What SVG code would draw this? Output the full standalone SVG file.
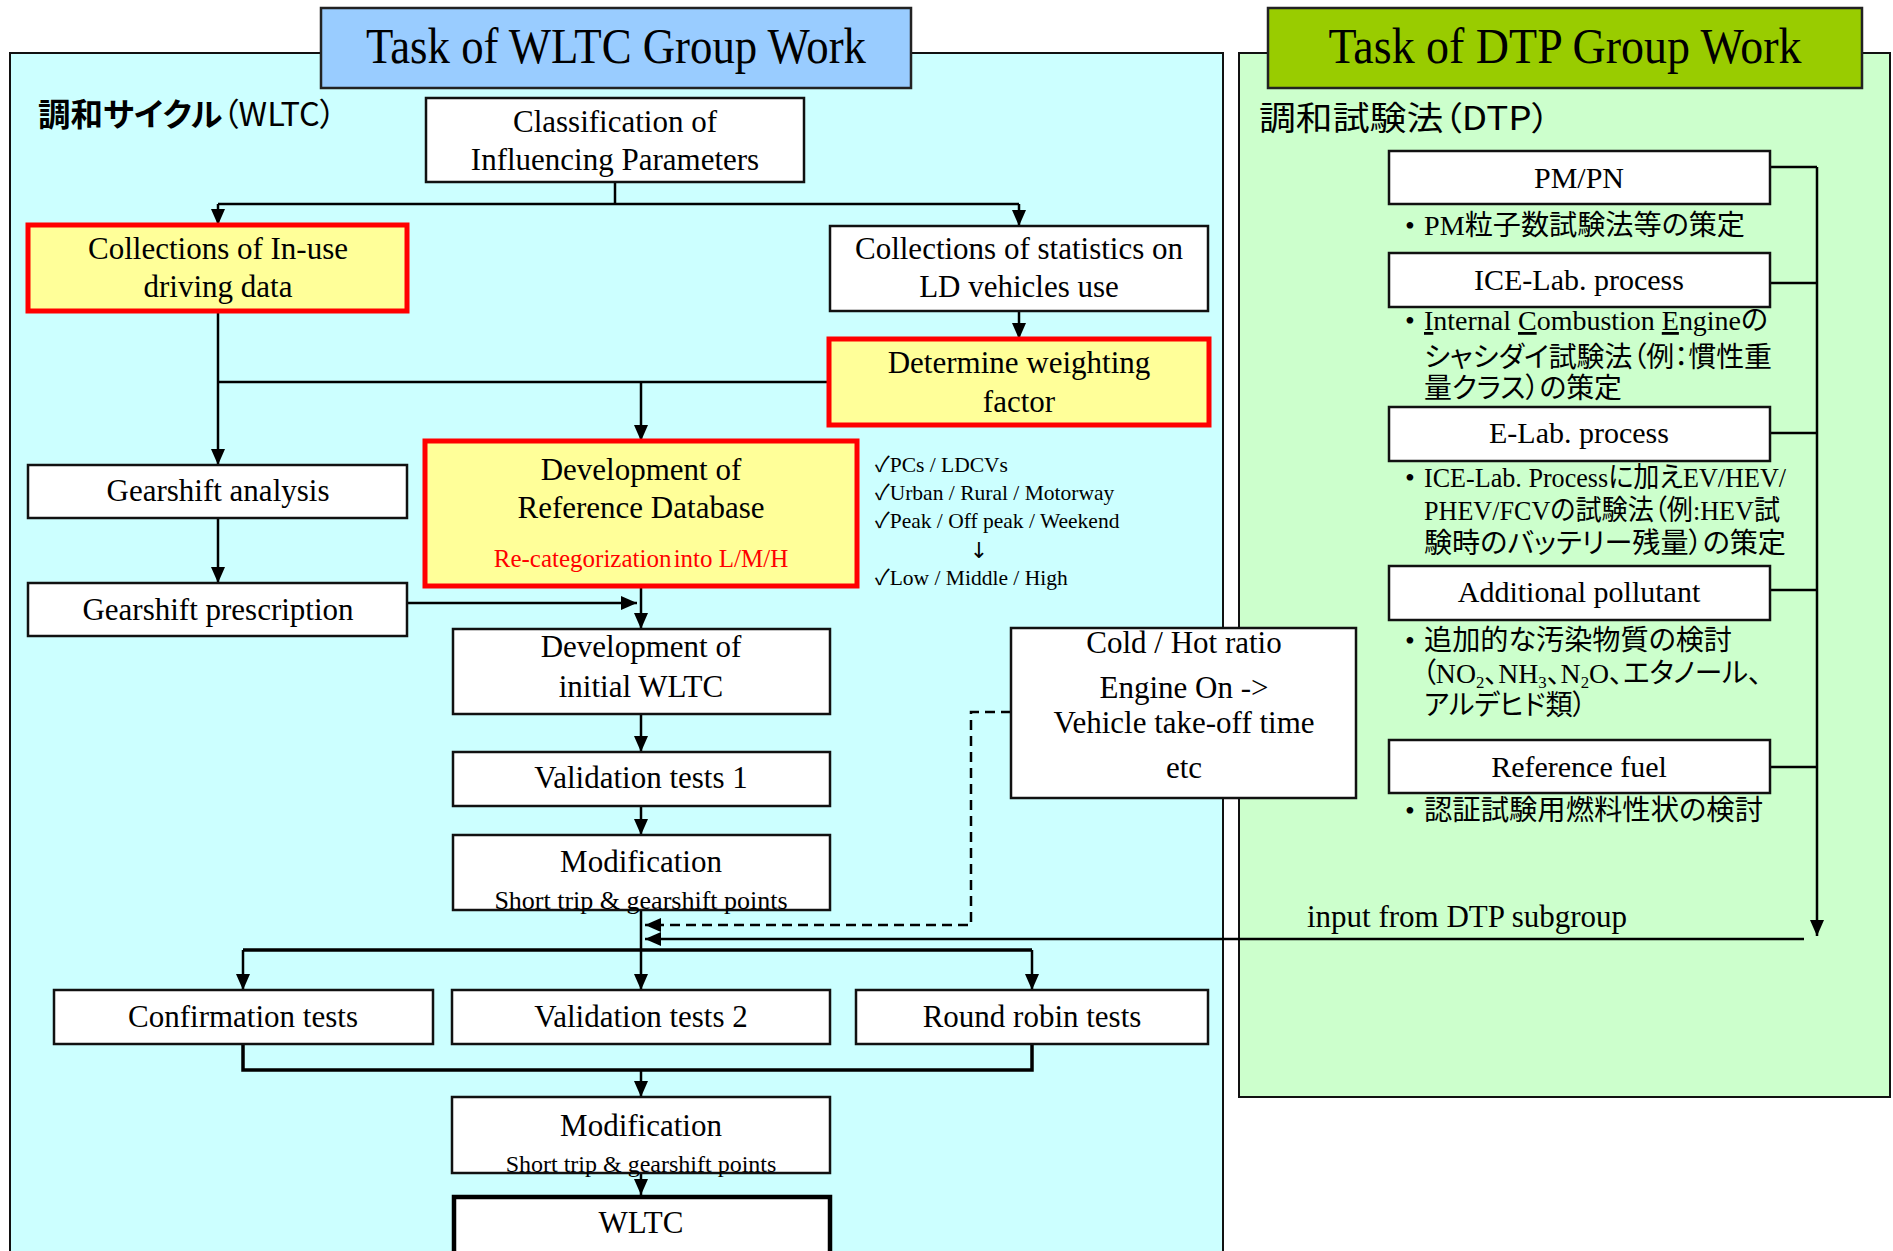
<svg xmlns="http://www.w3.org/2000/svg" width="1893" height="1251" viewBox="0 0 1893 1251">
<style>
.t{font-family:"Liberation Serif","Noto Sans CJK JP",serif;fill:#000}
.c{text-anchor:middle}
.b{font-size:31px}
.s{font-size:21.5px}
.jp{font-family:"Liberation Serif","Noto Sans CJK JP",serif;font-size:28px;font-feature-settings:"palt"}
.hd{font-family:"Noto Sans CJK JP",sans-serif;font-feature-settings:"palt"}
.box{fill:#fff;stroke:#111;stroke-width:2.5}
.hl{fill:#ffff99;stroke:#ff0000;stroke-width:5}
.ln{fill:none;stroke:#000;stroke-width:2.5}
.bus{fill:none;stroke:#000;stroke-width:3.5}
.dash{fill:none;stroke:#000;stroke-width:2.5;stroke-dasharray:10 6}
</style>
<defs>
<marker id="ah" viewBox="0 0 16 14" refX="16" refY="7" markerWidth="16" markerHeight="14" markerUnits="userSpaceOnUse" orient="auto">
<path d="M0,0 L16,7 L0,14 z" fill="#000"/>
</marker>
</defs>
<rect x="0" y="0" width="1893" height="1251" fill="#fff"/>

<g id="panel-wltc">
<rect x="10" y="53" width="1213" height="1215" fill="#ccffff" stroke="#111" stroke-width="2"/>
<rect x="321" y="8" width="590" height="80" fill="#99ccff" stroke="#222" stroke-width="2.5"/>
<text class="t c" x="616" y="63" font-size="50" textLength="500" lengthAdjust="spacingAndGlyphs">Task of WLTC Group Work</text>
<text class="hd" x="38" y="126" font-size="32" textLength="298" lengthAdjust="spacingAndGlyphs"><tspan font-weight="700">調和サイクル</tspan>（WLTC）</text>
</g>

<g id="panel-dtp">
<rect x="1239" y="53" width="651" height="1044" fill="#ccffcc" stroke="#111" stroke-width="2"/>
<rect x="1268" y="8" width="594" height="80" fill="#99cc00" stroke="#222" stroke-width="2.5"/>
<text class="t c" x="1565" y="63" font-size="50" textLength="473" lengthAdjust="spacingAndGlyphs">Task of DTP Group Work</text>
<text class="hd" x="1259" y="130" font-size="33" textLength="291" lengthAdjust="spacingAndGlyphs">調和試験法（DTP）</text>
</g>

<g id="connectors">
<path class="ln" d="M615,182 V204"/>
<path class="ln" d="M218,204 H1019"/>
<path class="ln" d="M218,204 V225" marker-end="url(#ah)"/>
<path class="ln" d="M1019,204 V226" marker-end="url(#ah)"/>
<path class="ln" d="M1019,311 V339" marker-end="url(#ah)"/>
<path class="ln" d="M218,311 V465" marker-end="url(#ah)"/>
<path class="ln" d="M829,382 H218"/>
<path class="ln" d="M641,382 V441" marker-end="url(#ah)"/>
<path class="ln" d="M218,518 V583" marker-end="url(#ah)"/>
<path class="ln" d="M407,603 H637" marker-end="url(#ah)"/>
<path class="ln" d="M641,586 V629" marker-end="url(#ah)"/>
<path class="ln" d="M641,714 V752" marker-end="url(#ah)"/>
<path class="ln" d="M641,806 V835" marker-end="url(#ah)"/>
<path class="ln" d="M641,910 V990" marker-end="url(#ah)"/>
<path class="dash" d="M1011,712 H971 V925 H645" marker-end="url(#ah)"/>
<path class="ln" d="M1804,939 H645" marker-end="url(#ah)"/>
<path class="bus" d="M243,950 H1032"/>
<path class="ln" d="M243,950 V990" marker-end="url(#ah)"/>
<path class="ln" d="M1032,950 V990" marker-end="url(#ah)"/>
<path class="bus" d="M243,1044 V1070 H1032 V1044"/>
<path class="ln" d="M641,1070 V1097" marker-end="url(#ah)"/>
<path class="ln" d="M641,1173 V1195" marker-end="url(#ah)"/>
<path class="ln" d="M1770,167 H1817 M1770,283 H1817 M1770,433 H1817 M1770,590 H1817 M1770,767 H1817"/>
<path class="ln" d="M1817,167 V936" marker-end="url(#ah)"/>
<text class="t" x="1307" y="927" font-size="31">input from DTP subgroup</text>
</g>

<g id="n-classification">
<rect class="box" x="426" y="98" width="378" height="84"/>
<text class="t c b" x="615" y="132">Classification of</text>
<text class="t c b" x="615" y="170">Influencing Parameters</text>
</g>
<g id="n-inuse">
<rect class="hl" x="28" y="225" width="379" height="86"/>
<text class="t c b" x="218" y="259">Collections of In-use</text>
<text class="t c b" x="218" y="297">driving data</text>
</g>
<g id="n-stats">
<rect class="box" x="830" y="226" width="378" height="85"/>
<text class="t c b" x="1019" y="259">Collections of statistics on</text>
<text class="t c b" x="1019" y="297">LD vehicles use</text>
</g>
<g id="n-weighting">
<rect class="hl" x="829" y="339" width="380" height="86"/>
<text class="t c b" x="1019" y="373">Determine weighting</text>
<text class="t c b" x="1019" y="412">factor</text>
</g>
<g id="n-gs-analysis">
<rect class="box" x="28" y="465" width="379" height="53"/>
<text class="t c b" x="218" y="501">Gearshift analysis</text>
</g>
<g id="n-gs-prescription">
<rect class="box" x="28" y="583" width="379" height="53"/>
<text class="t c b" x="218" y="620">Gearshift prescription</text>
</g>
<g id="n-refdb">
<rect class="hl" x="425" y="441" width="432" height="145"/>
<text class="t c b" x="641" y="480">Development of</text>
<text class="t c b" x="641" y="518">Reference Database</text>
<text class="t c" x="641" y="567" font-size="25" style="fill:#ff0000">Re-categorization<tspan dx="-4"> into L/M/H</tspan></text>
</g>
<g id="checklist">
<text class="t s" x="875" y="472">✓PCs / LDCVs</text>
<text class="t s" x="875" y="500">✓Urban / Rural / Motorway</text>
<text class="t s" x="875" y="528">✓Peak / Off peak / Weekend</text>
<text x="979" y="558" font-family="DejaVu Sans,sans-serif" font-size="22" text-anchor="middle">↓</text>
<text class="t s" x="875" y="585">✓Low / Middle / High</text>
</g>
<g id="n-initial">
<rect class="box" x="453" y="629" width="377" height="85"/>
<text class="t c b" x="641" y="657">Development of</text>
<text class="t c b" x="641" y="697">initial WLTC</text>
</g>
<g id="n-val1">
<rect class="box" x="453" y="752" width="377" height="54"/>
<text class="t c b" x="641" y="788">Validation tests 1</text>
</g>
<g id="n-mod1">
<rect class="box" x="453" y="835" width="377" height="75"/>
<text class="t c b" x="641" y="872">Modification</text>
<text class="t c" x="641" y="909" font-size="26">Short trip &amp; gearshift points</text>
</g>
<g id="n-coldhot">
<rect class="box" x="1011" y="628" width="345" height="170"/>
<text class="t c b" x="1184" y="653">Cold / Hot ratio</text>
<text class="t c b" x="1184" y="698">Engine On -&gt;</text>
<text class="t c b" x="1184" y="733">Vehicle take-off time</text>
<text class="t c b" x="1184" y="778">etc</text>
</g>
<g id="n-confirm">
<rect class="box" x="54" y="990" width="379" height="54"/>
<text class="t c b" x="243" y="1027">Confirmation tests</text>
</g>
<g id="n-val2">
<rect class="box" x="452" y="990" width="378" height="54"/>
<text class="t c b" x="641" y="1027">Validation tests 2</text>
</g>
<g id="n-roundrobin">
<rect class="box" x="856" y="990" width="352" height="54"/>
<text class="t c b" x="1032" y="1027">Round robin tests</text>
</g>
<g id="n-mod2">
<rect class="box" x="452" y="1097" width="378" height="76"/>
<text class="t c b" x="641" y="1136">Modification</text>
<text class="t c" x="641" y="1172" font-size="24">Short trip &amp; gearshift points</text>
</g>
<g id="n-wltc">
<rect x="454" y="1197" width="376" height="60" fill="#fff" stroke="#000" stroke-width="4.5"/>
<text class="t c b" x="641" y="1233">WLTC</text>
</g>

<g id="n-pmpn">
<rect class="box" x="1389" y="151" width="381" height="53"/>
<text class="t c" x="1579" y="188" font-size="30">PM/PN</text>
<text class="jp" x="1405" y="235">•</text>
<text class="jp" x="1424" y="235" textLength="321" lengthAdjust="spacingAndGlyphs">PM粒子数試験法等の策定</text>
</g>
<g id="n-ice">
<rect class="box" x="1389" y="253" width="381" height="54"/>
<text class="t c" x="1579" y="290" font-size="30">ICE-Lab. process</text>
<text class="jp" x="1405" y="330">•</text>
<text class="jp" x="1424" y="330" textLength="344" lengthAdjust="spacingAndGlyphs"><tspan text-decoration="underline">I</tspan>nternal <tspan text-decoration="underline">C</tspan>ombustion <tspan text-decoration="underline">E</tspan>ngineの</text>
<text class="jp" x="1424" y="367" textLength="348" lengthAdjust="spacingAndGlyphs">シャシダイ試験法（例：慣性重</text>
<text class="jp" x="1424" y="398" textLength="198" lengthAdjust="spacingAndGlyphs">量クラス）の策定</text>
</g>
<g id="n-elab">
<rect class="box" x="1389" y="407" width="381" height="54"/>
<text class="t c" x="1579" y="443" font-size="30">E-Lab. process</text>
<text class="jp" x="1405" y="487">•</text>
<text class="jp" x="1424" y="487" textLength="362" lengthAdjust="spacingAndGlyphs">ICE-Lab. Processに加えEV/HEV/</text>
<text class="jp" x="1424" y="520" textLength="356" lengthAdjust="spacingAndGlyphs">PHEV/FCVの試験法（例:HEV試</text>
<text class="jp" x="1424" y="553" textLength="362" lengthAdjust="spacingAndGlyphs">験時のバッテリー残量）の策定</text>
</g>
<g id="n-pollutant">
<rect class="box" x="1389" y="566" width="381" height="54"/>
<text class="t c" x="1579" y="602" font-size="30">Additional pollutant</text>
<text class="jp" x="1405" y="650">•</text>
<text class="jp" x="1424" y="650" textLength="308" lengthAdjust="spacingAndGlyphs">追加的な汚染物質の検討</text>
<text class="jp" x="1422" y="683" textLength="340" lengthAdjust="spacingAndGlyphs">（NO<tspan font-size="17" dy="5">2</tspan><tspan dy="-5">、NH</tspan><tspan font-size="17" dy="5">3</tspan><tspan dy="-5">、N</tspan><tspan font-size="17" dy="5">2</tspan><tspan dy="-5">O、エタノール、</tspan></text>
<text class="jp" x="1424" y="715" textLength="162" lengthAdjust="spacingAndGlyphs">アルデヒド類）</text>
</g>
<g id="n-fuel">
<rect class="box" x="1389" y="740" width="381" height="53"/>
<text class="t c" x="1579" y="777" font-size="30">Reference fuel</text>
<text class="jp" x="1405" y="820">•</text>
<text class="jp" x="1424" y="820" textLength="339" lengthAdjust="spacingAndGlyphs">認証試験用燃料性状の検討</text>
</g>
</svg>
